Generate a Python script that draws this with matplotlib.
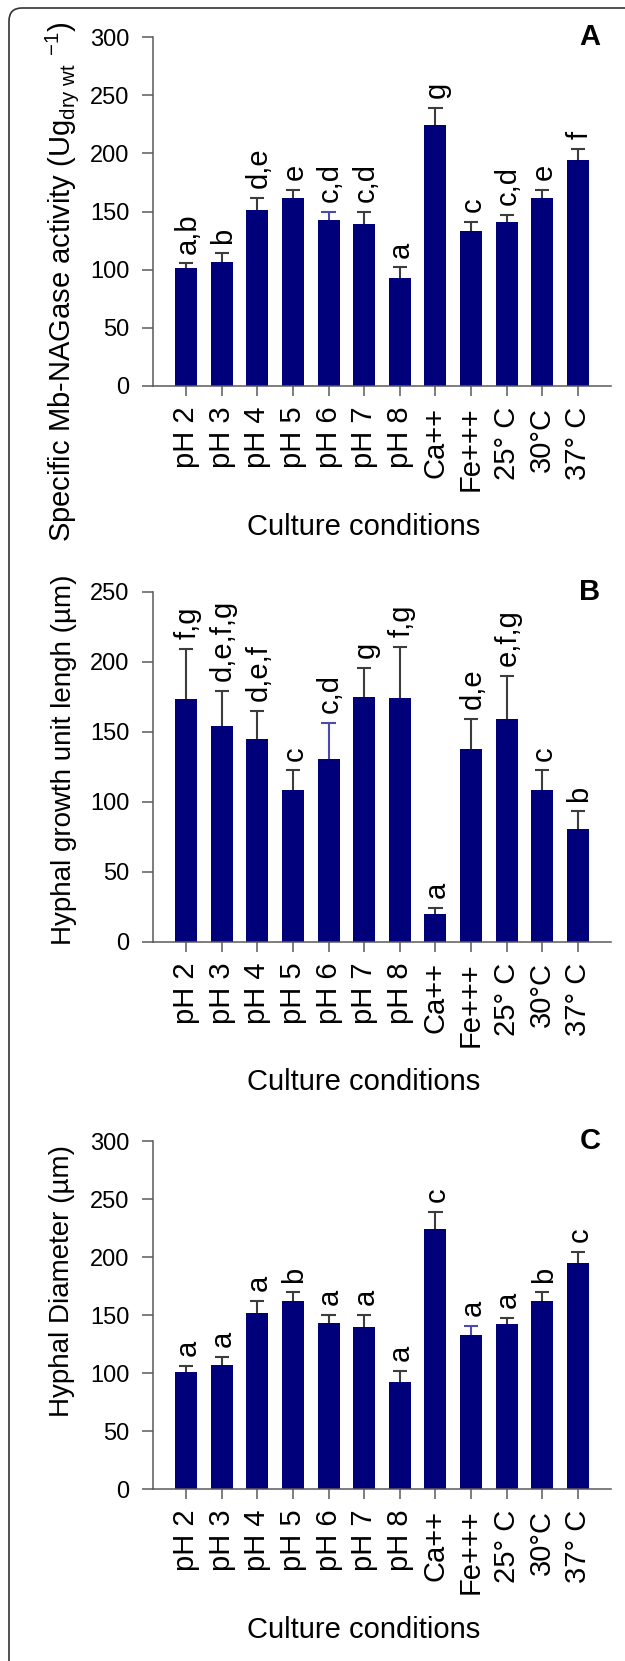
import matplotlib

matplotlib.use("Agg")
import matplotlib.pyplot as plt
import numpy as np
from matplotlib.patches import FancyBboxPatch

plt.rcParams["font.family"] = ["Liberation Sans", "DejaVu Sans"]
plt.rcParams["mathtext.fontset"] = "custom"
plt.rcParams["mathtext.rm"] = "Liberation Sans"
plt.rcParams["mathtext.it"] = "Liberation Sans:italic"

conditions = ["pH 2", "pH 3", "pH 4", "pH 5", "pH 6", "pH 7", "pH 8",
              "Ca++", "Fe+++", "25° C", "30°C", "37° C"]

# panel A: specific Mb-NAGase activity
activity = [101.5, 106.5, 151.5, 162, 143, 139.5, 93, 224, 133.5, 141, 162, 194.5]
activity_err = [4, 7.5, 10.5, 6.5, 7, 10.5, 9, 15, 7.5, 6, 6.5, 9.5]
activity_groups = ["a,b", "b", "d,e", "e", "c,d", "c,d", "a", "g", "c", "c,d", "e", "f"]

# panel B: hyphal growth unit length
growth_unit = [173.5, 154.5, 145, 108.5, 130.5, 175, 174.5, 20, 138, 159, 108.5, 80.5]
growth_unit_err = [36, 25, 20, 14, 26, 20.5, 36, 4, 21.5, 31, 14, 12.5]
growth_unit_groups = ["f,g", "d,e,f,g", "d,e,f", "c", "c,d", "g", "f,g", "a", "d,e", "e,f,g", "c", "b"]

# panel C: hyphal diameter
diameter = [101, 106.5, 151.5, 162.5, 143.5, 140, 92.5, 224.5, 133, 142, 162.5, 194.5]
diameter_err = [5, 7.5, 11, 7, 6.5, 10, 9.5, 14.5, 7.5, 5.5, 7, 10]
diameter_groups = ["a", "a", "a", "b", "a", "a", "a", "c", "a", "a", "b", "c"]

NAVY = "#00007a"
ERR_GREY = "#3c3c3c"
ERR_BLUE = "#4a4ab0"
W, H = 625, 1661

panels = [
    # (values, errors, groups, ymax, letter, ylabel, ylabel size, axes top/base px, blue error bar, ylabel centre px)
    (activity, activity_err, activity_groups, 300, "A",
     r"Specific Mb-NAGase activity (Ug$_{\mathrm{dry\ wt}}$ $^{\mathrm{-1}}$)", 21,
     (37, 386), 4, (62, 282)),
    (growth_unit, growth_unit_err, growth_unit_groups, 250, "B",
     "Hyphal growth unit lengh (µm)", 20, (592, 941.5), 4, (64, 760)),
    (diameter, diameter_err, diameter_groups, 300, "C",
     "Hyphal Diameter (µm)", 20, (1141, 1489), 8, (62, 1281)),
]

fig = plt.figure(figsize=(W / 100, H / 100), dpi=100)

# rounded frame, only top and left edges visible
frame = FancyBboxPatch((0.09, -1.0), 8.0, 16.53 + 1.0, boxstyle="round,pad=0,rounding_size=0.13",
                       transform=fig.dpi_scale_trans, fill=False, edgecolor="#333333", linewidth=1.2)
fig.patches.append(frame)

x = np.arange(len(conditions))
left, right = 153, 611
for values, errors, groups, ymax, letter, ylabel, ysize, (top_px, base_px), blue_idx, (lx, ly) in panels:
    ax = fig.add_axes([left / W, 1 - base_px / H, (right - left) / W, (base_px - top_px) / H])
    values = np.array(values)
    errors = np.array(errors)
    ax.bar(x, values, width=0.62, color=NAVY, zorder=2)
    err_colors = [ERR_BLUE if i == blue_idx else ERR_GREY for i in range(len(x))]
    ax.vlines(x, values, values + errors, colors=err_colors, linewidth=1.5, zorder=3)
    ax.hlines(values + errors, x - 0.2, x + 0.2, colors=err_colors, linewidth=1.5, zorder=3)
    for xi, top, label in zip(x, values + errors, groups):
        ax.annotate(label, (xi, top), xytext=(1, 7), textcoords="offset points",
                    rotation=90, ha="center", va="bottom", fontsize=21)

    ax.set_xlim(-0.93, 11.93)
    ax.set_ylim(0, ymax)
    ax.set_yticks(np.arange(0, ymax + 1, 50))
    ax.set_xticks(x)
    ax.set_xticklabels(conditions, rotation=90, fontsize=21)
    for side in ("top", "right"):
        ax.spines[side].set_visible(False)
    for side in ("left", "bottom"):
        ax.spines[side].set_color("#5a5a5a")
        ax.spines[side].set_linewidth(1.1)
    ax.tick_params(axis="y", direction="out", length=8, width=1.1, color="#5a5a5a", labelsize=17, pad=9)
    ax.tick_params(axis="x", direction="out", length=7, width=1.1, color="#5a5a5a", pad=8)

    fig.text(lx / W, 1 - ly / H, ylabel, rotation=90, ha="center", va="center", fontsize=ysize)
    fig.text(364 / W, 1 - (base_px + 141) / H, "Culture conditions", ha="center", va="center", fontsize=21)
    fig.text(590 / W, 1 - top_px / H, letter, ha="center", va="center", fontsize=21, fontweight="bold")

fig.savefig("out.png", dpi=100)
